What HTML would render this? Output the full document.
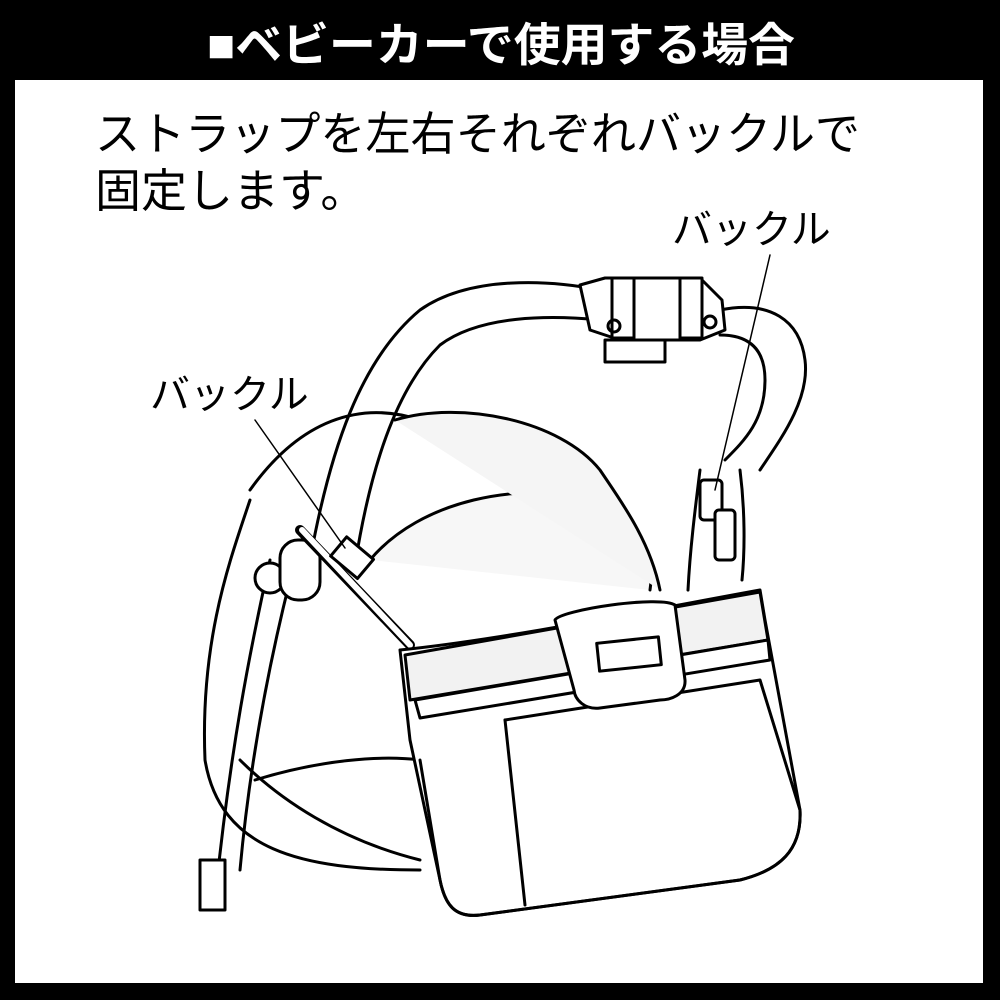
<!DOCTYPE html>
<html><head><meta charset="utf-8"><style>
html,body{margin:0;padding:0;background:#000;}
svg{display:block}
</style></head><body>
<svg width="1000" height="1000" viewBox="0 0 1000 1000" xmlns="http://www.w3.org/2000/svg">
<rect x="0" y="0" width="1000" height="1000" fill="#000"/>
<rect x="15" y="80" width="968" height="903" fill="#fff"/>
<text x="501" y="61" fill="#fff" font-family="Liberation Sans, Noto Sans CJK JP, sans-serif" font-weight="bold" font-size="46" text-anchor="middle" textLength="588" lengthAdjust="spacingAndGlyphs">■ベビーカーで使用する場合</text>
<g font-family="Liberation Sans, Noto Sans CJK JP, sans-serif" fill="#000">
<text x="95" y="150" font-size="46" textLength="765" lengthAdjust="spacingAndGlyphs">ストラップを左右それぞれバックルで</text>
<text x="95" y="207" font-size="46">固定します。</text>
<text x="672" y="243" font-size="40">バックル</text>
<text x="150" y="408" font-size="40">バックル</text>
</g>
<g fill="none" stroke="#000" stroke-width="3" stroke-linejoin="round" stroke-linecap="round">
<!-- canopy / seat body -->
<path d="M250 500 C230 560 200 640 205 760 C220 850 300 870 420 870" fill="#fff"/>
<path d="M250 490 C300 420 360 400 420 420" />
<path d="M255 780 C320 760 380 755 420 760"/>
<path d="M240 760 C280 800 340 840 420 860"/>
<!-- inner seat -->
<path d="M370 560 C420 500 520 480 600 500 C640 520 655 560 650 590" fill="#f7f7f7"/>
<path d="M395 420 C460 400 560 420 600 470 C620 500 650 540 660 590" fill="#f5f5f5"/>
<!-- handle arch -->
<path d="M310 560 C330 450 360 360 420 310 C470 275 550 280 600 290" stroke-width="3"/>
<path d="M355 565 C370 470 395 390 440 345 C480 315 550 315 600 320"/>
<path d="M720 310 C770 300 800 320 805 360 C810 400 780 440 760 470"/>
<path d="M720 335 C750 335 765 350 765 380 C765 420 745 440 725 460"/>
<!-- handle clip -->
<path d="M580 285 L605 278 L700 278 L722 300 L725 330 L700 340 L620 340 L590 330 Z" fill="#fff"/>
<rect x="612" y="278" width="22" height="60" fill="#fff"/>
<rect x="680" y="278" width="22" height="60" fill="#fff"/>
<rect x="605" y="340" width="60" height="22" fill="#fff"/>
<circle cx="614" cy="326" r="6"/><circle cx="710" cy="322" r="6"/>
<!-- left frame -->
<path d="M270 560 C250 650 230 750 215 900"/>
<path d="M290 580 C270 660 250 760 240 870"/>
<circle cx="270" cy="578" r="15" fill="#fff"/>
<rect x="280" y="540" width="40" height="60" rx="18" fill="#fff"/>
<path d="M200 860 L225 860 L225 910 L200 910 Z" fill="#fff"/>
<!-- right frame -->
<path d="M700 470 C695 510 690 550 688 590"/>
<path d="M740 470 C745 510 745 550 742 580"/>
<rect x="700" y="480" width="22" height="40" rx="4" fill="#fff"/>
<rect x="715" y="510" width="20" height="50" rx="4" fill="#fff"/>
<!-- left strap + buckle -->
<path d="M300 530 L410 645" stroke-width="10" stroke="#000"/>
<path d="M302 530 L410 645" stroke-width="6" stroke="#fff"/>
<rect x="335" y="545" width="35" height="25" fill="#fff" transform="rotate(40 352 557)"/>
<line x1="255" y1="420" x2="345" y2="548" stroke-width="1.5"/>
<line x1="770" y1="255" x2="715" y2="490" stroke-width="1.5"/>
<!-- bag -->
<path d="M400 650 C500 640 650 610 760 590 L765 620 L800 810 C802 850 780 870 740 880 L480 915 C455 918 445 905 440 880 L410 740 Z" fill="#fff"/>
<path d="M405 655 L760 592 L768 640 L410 700 Z" fill="#f2f2f2"/>
<path d="M415 700 L768 640 L770 660 L420 718 Z" fill="#fff"/>
<path d="M505 720 L760 680 L800 810 C802 850 780 870 740 880 L480 915 C455 918 445 905 440 880 L420 760" />
<path d="M505 720 L525 905"/>
<!-- bag tab -->
<path d="M555 620 C560 610 660 595 675 605 L685 680 C686 695 670 700 660 700 L600 708 C585 710 575 700 574 690 Z" fill="#fff"/>
<rect x="598" y="640" width="62" height="28" transform="rotate(-6 629 654)" fill="#fff"/>
</g>
</svg>
</body></html>
